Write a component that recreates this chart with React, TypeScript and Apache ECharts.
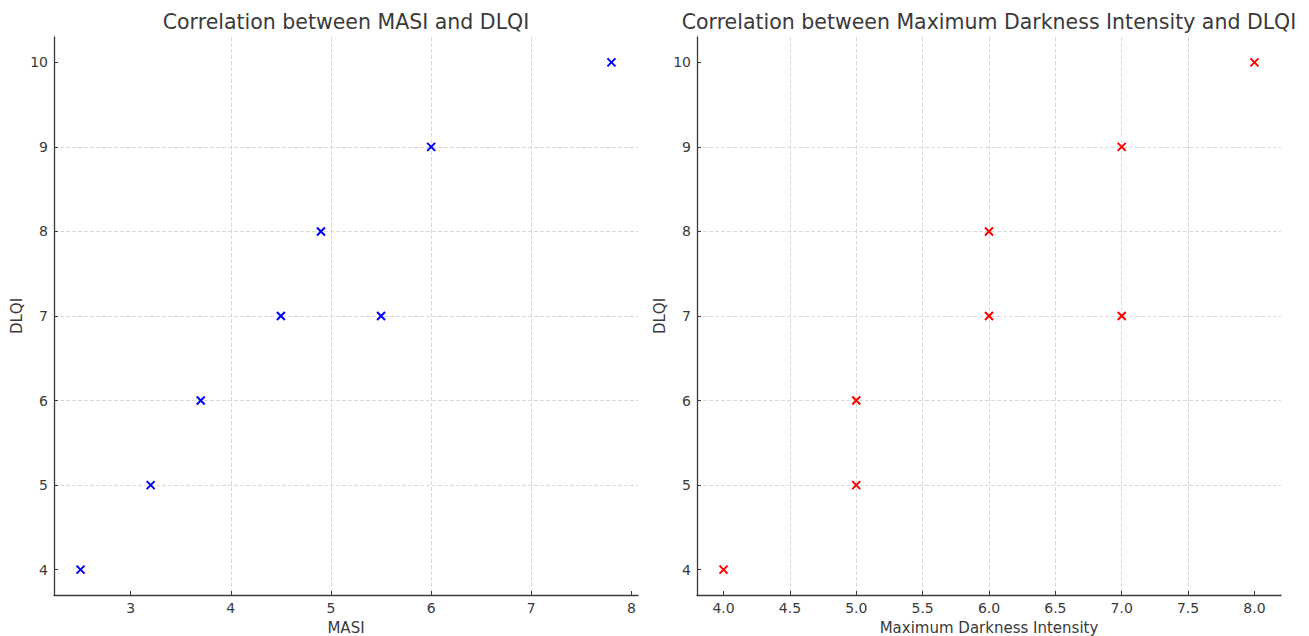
import React, { useEffect, useRef } from "react";
import * as echarts from "echarts";

const masi = [2.5, 3.2, 3.7, 4.5, 4.9, 5.5, 6.0, 7.8];
const dlqiLeft = [4, 5, 6, 7, 8, 7, 9, 10];
const darkness = [4, 5, 5, 6, 6, 7, 7, 8];
const dlqiRight = [4, 5, 6, 7, 8, 7, 9, 10];
const masiTicks = [3, 4, 5, 6, 7, 8];
const darknessTicks = [4.0, 4.5, 5.0, 5.5, 6.0, 6.5, 7.0, 7.5, 8.0];
const dlqiTicks = [4, 5, 6, 7, 8, 9, 10];

const TEXT = "#3a3a3a";
const FONT = "DejaVu Sans";
const XMARK = "path://M0,0L10,10M10,0L0,10";

function pad(vals: number[]) {
  const lo = Math.min(...vals);
  const hi = Math.max(...vals);
  const m = (hi - lo) * 0.05;
  return [lo - m, hi + m];
}

export default function App() {
  const ref = useRef<HTMLDivElement>(null);
  useEffect(() => {
    if (!ref.current) return;
    const chart = echarts.init(ref.current, null, { renderer: "svg" });
    const [x1min, x1max] = pad(masi);
    const [x2min, x2max] = pad(darkness);
    const [y1min, y1max] = pad(dlqiLeft);
    const [y2min, y2max] = pad(dlqiRight);

    const axisCommon = (ticks: number[], fmt: (v: number) => string, margin: number) => ({
      type: "value",
      axisLine: { show: true, lineStyle: { color: "#3a3a3a", width: 1.3 } },
      axisTick: { show: true, inside: true, length: 4, customValues: ticks, lineStyle: { color: "#3a3a3a", width: 1 } },
      axisLabel: {
        customValues: ticks,
        color: TEXT,
        fontSize: 14,
        fontFamily: FONT,
        margin,
        formatter: (v: number) => fmt(v),
      },
      splitLine: {
        show: true,
        showMinLine: false,
        showMaxLine: false,
        lineStyle: { color: "#d0d0d0", type: [4, 2], width: 0.8 },
      },
      nameTextStyle: { color: TEXT, fontSize: 15, fontFamily: FONT },
      nameLocation: "middle",
    });

    const intFmt = (v: number) => String(Math.round(v));
    const decFmt = (v: number) => v.toFixed(1);

    chart.setOption({
      animation: false,
      backgroundColor: "#ffffff",
      grid: [
        { left: 54, top: 37, width: 584, height: 558, outerBoundsMode: "none", containLabel: false },
        { left: 697, top: 37, width: 584, height: 558, outerBoundsMode: "none", containLabel: false },
      ],
      xAxis: [
        { ...axisCommon(masiTicks, intFmt, 6), gridIndex: 0, min: x1min, max: x1max, minInterval: 1, maxInterval: 1, name: "MASI", nameGap: 25 },
        { ...axisCommon(darknessTicks, decFmt, 6), gridIndex: 1, min: x2min, max: x2max, minInterval: 0.5, maxInterval: 0.5, name: "Maximum Darkness Intensity", nameGap: 25 },
      ],
      yAxis: [
        { ...axisCommon(dlqiTicks, intFmt, 6), gridIndex: 0, min: y1min, max: y1max, minInterval: 1, maxInterval: 1, name: "DLQI", nameGap: 30 },
        { ...axisCommon(dlqiTicks, intFmt, 6), gridIndex: 1, min: y2min, max: y2max, minInterval: 1, maxInterval: 1, name: "DLQI", nameGap: 30 },
      ],
      graphic: [
        {
          type: "text",
          x: 346,
          y: 22,
          style: { text: "Correlation between MASI and DLQI", fill: TEXT, font: `20.5px "${FONT}"`, align: "center", verticalAlign: "middle" },
        },
        {
          type: "text",
          x: 989,
          y: 22,
          style: { text: "Correlation between Maximum Darkness Intensity and DLQI", fill: TEXT, font: `20.5px "${FONT}"`, align: "center", verticalAlign: "middle" },
        },
      ],
      series: [
        {
          type: "scatter",
          xAxisIndex: 0,
          yAxisIndex: 0,
          symbol: XMARK,
          symbolSize: 8,
          itemStyle: { color: "rgba(0,0,0,0)", borderColor: "#0000ff", borderWidth: 2, opacity: 1 },
          data: masi.map((x, i) => [x, dlqiLeft[i]]),
        },
        {
          type: "scatter",
          xAxisIndex: 1,
          yAxisIndex: 1,
          symbol: XMARK,
          symbolSize: 8,
          itemStyle: { color: "rgba(0,0,0,0)", borderColor: "#ff0000", borderWidth: 2, opacity: 1 },
          data: darkness.map((x, i) => [x, dlqiRight[i]]),
        },
      ],
    });
    return () => chart.dispose();
  }, []);
  return <div ref={ref} style={{ position: "absolute", left: 0, top: 0, width: 1309, height: 636 }} />;
}
